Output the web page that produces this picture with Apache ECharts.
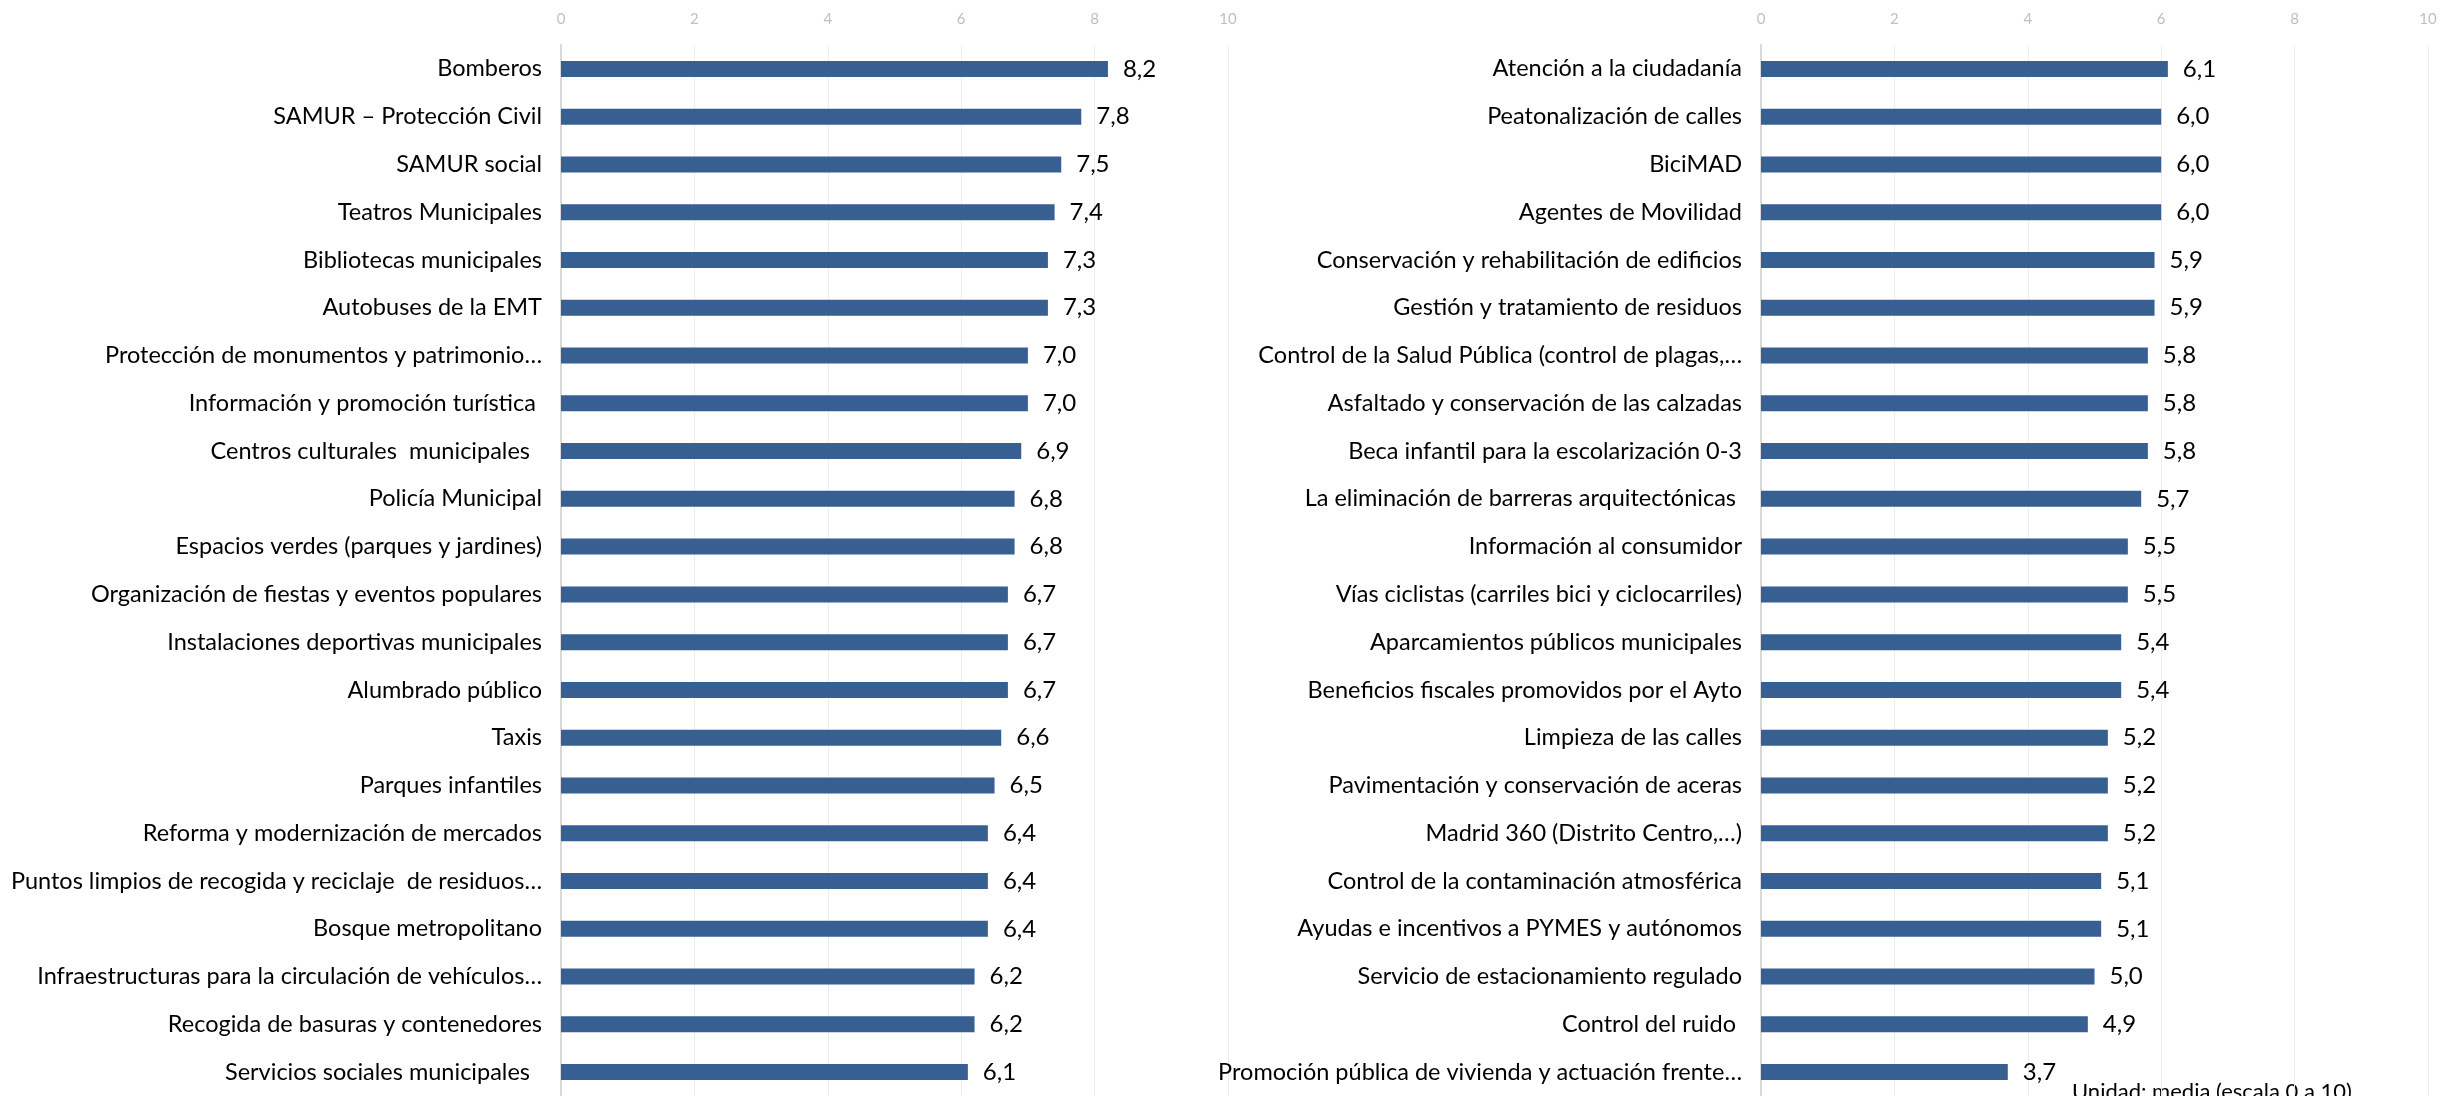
<!DOCTYPE html>
<html>
<head>
<meta charset="utf-8">
<script src="https://cdn.jsdelivr.net/npm/echarts@6/dist/echarts.min.js"></script>
<style>
  html, body { margin: 0; padding: 0; background: #fff; }
  #chart { width: 2440px; height: 1096px; }
</style>
</head>
<body>
<div id="chart"></div>
<script>
  // left panel
  var leftNames = [
    'Bomberos', 'SAMUR – Protección Civil', 'SAMUR social', 'Teatros Municipales',
    'Bibliotecas municipales', 'Autobuses de la EMT', 'Protección de monumentos y patrimonio…',
    'Información y promoción turística ', 'Centros culturales  municipales  ', 'Policía Municipal',
    'Espacios verdes (parques y jardines)', 'Organización de fiestas y eventos populares',
    'Instalaciones deportivas municipales', 'Alumbrado público', 'Taxis', 'Parques infantiles',
    'Reforma y modernización de mercados', 'Puntos limpios de recogida y reciclaje  de residuos…',
    'Bosque metropolitano', 'Infraestructuras para la circulación de vehículos…',
    'Recogida de basuras y contenedores', 'Servicios sociales municipales  '
  ];
  var leftValues = [8.2, 7.8, 7.5, 7.4, 7.3, 7.3, 7.0, 7.0, 6.9, 6.8, 6.8, 6.7, 6.7, 6.7, 6.6, 6.5, 6.4, 6.4, 6.4, 6.2, 6.2, 6.1];

  // right panel
  var rightNames = [
    'Atención a la ciudadanía', 'Peatonalización de calles', 'BiciMAD', 'Agentes de Movilidad',
    'Conservación y rehabilitación de edificios', 'Gestión y tratamiento de residuos',
    'Control de la Salud Pública (control de plagas,…', 'Asfaltado y conservación de las calzadas',
    'Beca infantil para la escolarización 0-3', 'La eliminación de barreras arquitectónicas ',
    'Información al consumidor', 'Vías ciclistas (carriles bici y ciclocarriles)',
    'Aparcamientos públicos municipales', 'Beneficios fiscales promovidos por el Ayto',
    'Limpieza de las calles', 'Pavimentación y conservación de aceras', 'Madrid 360 (Distrito Centro,…)',
    'Control de la contaminación atmosférica', 'Ayudas e incentivos a PYMES y autónomos',
    'Servicio de estacionamiento regulado', 'Control del ruido ',
    'Promoción pública de vivienda y actuación frente…'
  ];
  var rightValues = [6.1, 6.0, 6.0, 6.0, 5.9, 5.9, 5.8, 5.8, 5.8, 5.7, 5.5, 5.5, 5.4, 5.4, 5.2, 5.2, 5.2, 5.1, 5.1, 5.0, 4.9, 3.7];

  var xTicks = { min: 0, max: 10, interval: 2 };
  var barColor = '#375f91';

  function makeX(idx) {
    return {
      type: 'value', gridIndex: idx, position: 'top',
      min: xTicks.min, max: xTicks.max, interval: xTicks.interval,
      axisLine: { show: false }, axisTick: { show: false },
      axisLabel: { color: '#bfbfbf', fontSize: 15, fontFamily: 'Lato', margin: 18 },
      splitLine: { show: true, lineStyle: { color: '#ededed', width: 1 } }
    };
  }

  function makeY(idx, names) {
    return {
      type: 'category', gridIndex: idx, inverse: true, data: names,
      axisLine: { show: true, lineStyle: { color: '#d9d9d9', width: 2 } },
      axisTick: { show: false },
      axisLabel: { color: '#000', fontSize: 23.5, fontFamily: 'Lato', margin: 19 }
    };
  }

  function makeSeries(idx, values) {
    return {
      type: 'bar', xAxisIndex: idx, yAxisIndex: idx, data: values,
      barWidth: 16,
      itemStyle: { color: barColor },
      label: {
        show: true, position: 'right', distance: 15,
        color: '#000', fontSize: 24, fontFamily: 'Lato',
        formatter: function (p) { return p.value.toFixed(1).replace('.', ','); }
      }
    };
  }

  var chart = echarts.init(document.getElementById('chart'));
  chart.setOption({
    animation: false,
    backgroundColor: '#fff',
    grid: [
      { left: 561, width: 667, top: 45, height: 1051 },
      { left: 1761, width: 667, top: 45, height: 1051 }
    ],
    xAxis: [makeX(0), makeX(1)],
    yAxis: [makeY(0, leftNames), makeY(1, rightNames)],
    series: [makeSeries(0, leftValues), makeSeries(1, rightValues)],
    graphic: [{
      type: 'text', left: 2072, top: 1081,
      style: { text: 'Unidad: media (escala 0 a 10)', fill: '#000', font: '22px Lato' }
    }]
  });
</script>
</body>
</html>
